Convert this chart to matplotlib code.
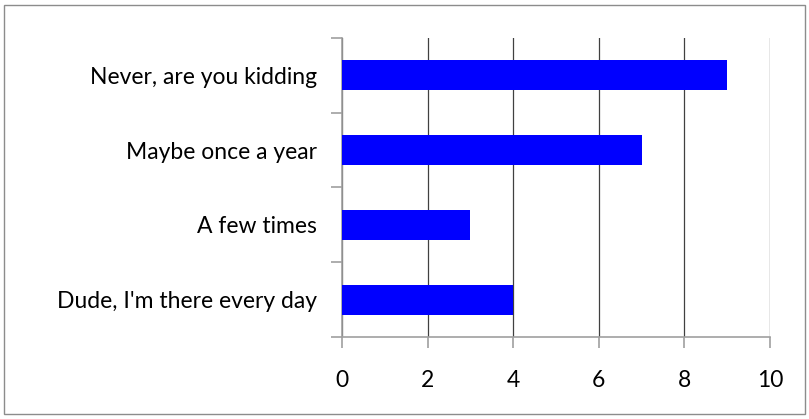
import numpy as np
import matplotlib.pyplot as plt
from matplotlib.patches import Rectangle

categories = ["Never, are you kidding", "Maybe once a year", "A few times", "Dude, I'm there every day"]
counts = [9, 7, 3, 4]
xticks = [0, 2, 4, 6, 8, 10]

plt.rcParams['font.family'] = ['Lato', 'DejaVu Sans']

fig = plt.figure(figsize=(8.09, 4.19), dpi=100)
fig.patches.append(Rectangle((4/809, 5/419), 801/809, 409/419, transform=fig.transFigure,
                             fill=False, edgecolor='#8c8c8c', linewidth=1))
ax = fig.add_axes([342/809, 82/419, 428/809, 299/419])

y = np.arange(len(categories))
ax.barh(y, counts, height=0.4, color='#0000ff', zorder=3)
ax.set_ylim(len(categories) - 0.5, -0.5)
ax.set_xlim(0, 10)
ax.set_xticks(xticks)
ax.set_xticklabels([str(v) for v in xticks], fontsize=16.5)
ax.set_yticks(y)
ax.set_yticklabels(categories, fontsize=16.5)
ax.set_yticks(np.arange(-0.5, len(categories)), minor=True)

ax.grid(axis='x', color='#404040', linewidth=0.9, zorder=0)
for s in ['top', 'right']:
    ax.spines[s].set_visible(False)
for s in ['left', 'bottom']:
    ax.spines[s].set_color('#a0a0a0')
    ax.spines[s].set_linewidth(1.2)

ax.tick_params(axis='y', which='major', length=0, pad=18)
ax.tick_params(axis='y', which='minor', length=8, color='#a0a0a0', width=1.2)
ax.tick_params(axis='x', length=8, color='#a0a0a0', width=1.2, pad=16)

fig.savefig('out.png', dpi=100)
